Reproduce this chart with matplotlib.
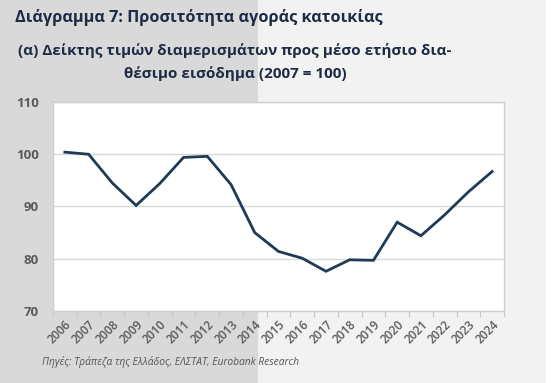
import matplotlib
matplotlib.use('Agg')
import matplotlib.pyplot as plt
from matplotlib.patches import Rectangle

# data
years = ["2006", "2007", "2008", "2009", "2010", "2011", "2012", "2013", "2014", "2015",
         "2016", "2017", "2018", "2019", "2020", "2021", "2022", "2023", "2024"]
index_values = [100.4, 100.0, 94.5, 90.2, 94.4, 99.4, 99.6, 94.2, 85.0, 81.4,
                80.1, 77.6, 79.8, 79.7, 87.0, 84.4, 88.4, 92.8, 96.7]
y_ticks = [70, 80, 90, 100, 110]

title = "Διάγραμμα 7: Προσιτότητα αγοράς κατοικίας"
subtitle = "(α) Δείκτης τιμών διαμερισμάτων προς μέσο ετήσιο δια-\nθέσιμο εισόδημα (2007 = 100)"
source = "Πηγές: Τράπεζα της Ελλάδος, ΕΛΣΤΑΤ, Eurobank Research"

W, H = 556, 383
navy = "#1e2b45"
line_col = "#1f3a56"
tick_col = "#5a5a5a"

plt.rcParams['font.family'] = ['Open Sans', 'DejaVu Sans']

fig = plt.figure(figsize=(W / 100, H / 100), dpi=100)
fig.patch.set_facecolor("white")

# two-tone background
fig.patches.append(Rectangle((0, 0), 258 / W, 1, transform=fig.transFigure,
                             facecolor="#d9d9d9", edgecolor="none", zorder=-10))
fig.patches.append(Rectangle((258 / W, 0), (546 - 258) / W, 1, transform=fig.transFigure,
                             facecolor="#f2f2f2", edgecolor="none", zorder=-10))

ax = fig.add_axes([53 / W, 1 - 311 / H, (504 - 53) / W, (311 - 102) / H])
ax.set_facecolor("white")

x = list(range(len(years)))
ax.plot(x, index_values, color=line_col, linewidth=2.0, solid_joinstyle='miter', zorder=3)

ax.set_xlim(-0.5, len(years) - 0.5)
ax.set_ylim(70, 110)
ax.set_yticks(y_ticks)
ax.set_yticklabels([str(v) for v in y_ticks], color=tick_col, fontsize=9.5, fontweight='bold')
ax.tick_params(axis='y', length=0, pad=10)

ax.set_xticks(x)
ax.set_xticklabels(years, rotation=45, ha='right', rotation_mode='anchor',
                   color=tick_col, fontsize=8.5, fontweight='semibold')
ax.tick_params(axis='x', length=0, pad=5)
ax.set_xticks([i - 0.5 for i in range(len(years) + 1)], minor=True)
ax.tick_params(axis='x', which='minor', length=4, color="#c8c8c8", width=0.8)

ax.grid(axis='y', color="#d9d9d9", linewidth=1.0, zorder=0)
for spine in ax.spines.values():
    spine.set_edgecolor("#cfcfcf")
    spine.set_linewidth(1.0)

fig.text(15 / W, 1 - 17 / H, title, fontsize=11.7, fontweight='bold', color=navy,
         ha='left', va='center')
fig.text(235 / W, 1 - 62 / H, subtitle, fontsize=11, fontweight='bold', color=navy,
         ha='center', va='center', linespacing=1.7)
fig.text(42 / W, 1 - 362 / H, source, fontsize=7.4, style='italic', color="#555555",
         ha='left', va='center')

fig.savefig("out.png", dpi=100, facecolor=fig.get_facecolor())
